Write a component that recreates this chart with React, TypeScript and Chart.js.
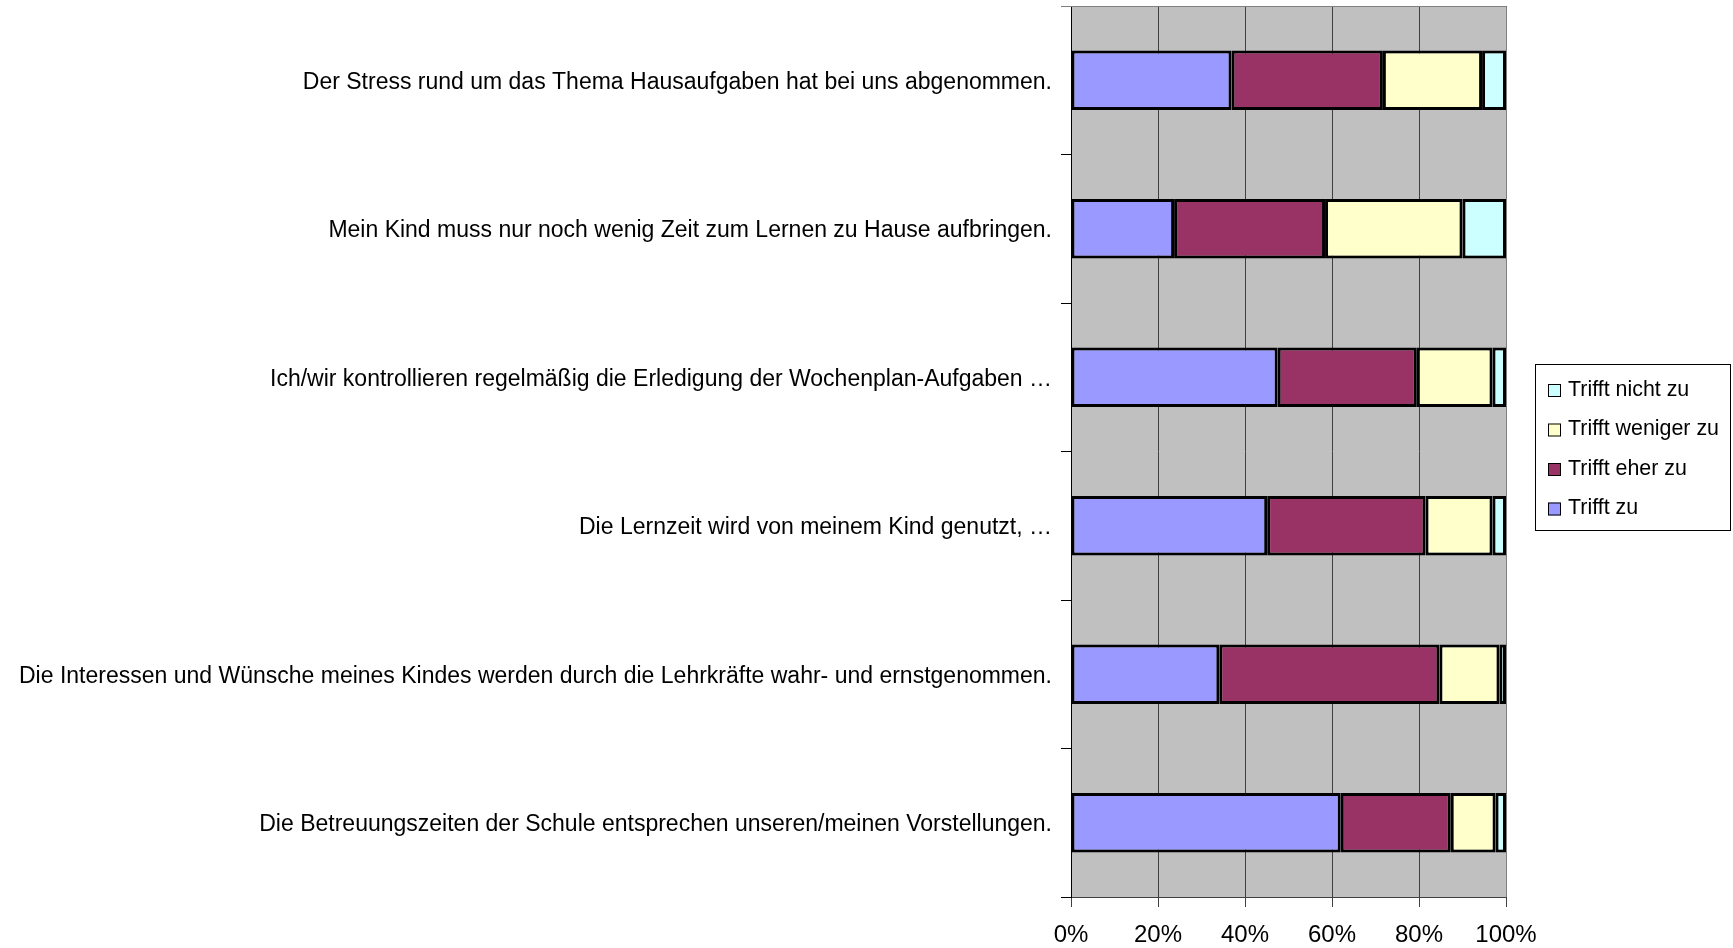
import React, { useEffect, useRef } from "react";
import { Chart, registerables } from "chart.js";

Chart.register(...registerables);

const categories = [
  "Der Stress rund um das Thema Hausaufgaben hat bei uns abgenommen.",
  "Mein Kind muss nur noch wenig Zeit zum Lernen zu Hause aufbringen.",
  "Ich/wir kontrollieren regelmäßig die Erledigung der Wochenplan-Aufgaben …",
  "Die Lernzeit wird von meinem Kind genutzt, …",
  "Die Interessen und Wünsche meines Kindes werden durch die Lehrkräfte wahr- und ernstgenommen.",
  "Die Betreuungszeiten der Schule entsprechen unseren/meinen Vorstellungen.",
];

const trifftZu = [36.9, 23.7, 47.5, 45.1, 34.1, 62.0];
const trifftEherZu = [34.8, 34.7, 32.0, 36.4, 50.6, 25.3];
const trifftWenigerZu = [22.8, 31.6, 17.4, 15.4, 13.8, 10.3];
const trifftNichtZu = [5.5, 10.0, 3.1, 3.1, 1.5, 2.4];

const seriesNames = ["Trifft zu", "Trifft eher zu", "Trifft weniger zu", "Trifft nicht zu"];
const seriesColors = ["#9999FF", "#993366", "#FFFFCC", "#CCFFFF"];
const xTicks = [0, 20, 40, 60, 80, 100];

const FONT = "'Liberation Sans', Arial, sans-serif";

const plotBg = {
  id: "plotBg",
  beforeDraw(chart: any) {
    const { ctx, chartArea: a } = chart;
    ctx.save();
    ctx.fillStyle = "#C0C0C0";
    ctx.fillRect(a.left, a.top, a.right - a.left, a.bottom - a.top);
    ctx.restore();
  },
  afterDatasetsDraw(chart: any) {
    const { ctx, chartArea: a } = chart;
    ctx.save();
    ctx.strokeStyle = "#808080";
    ctx.lineWidth = 1;
    ctx.beginPath();
    ctx.moveTo(a.left - 10, a.top + 0.5);
    ctx.lineTo(a.right + 0.5, a.top + 0.5);
    ctx.lineTo(a.right + 0.5, a.bottom);
    ctx.stroke();
    ctx.restore();
  },
};

const boxLegend = {
  id: "boxLegend",
  afterDraw(chart: any) {
    const { ctx } = chart;
    const x = 1535, y = 364, w = 195, h = 166;
    ctx.save();
    ctx.fillStyle = "#FFFFFF";
    ctx.fillRect(x, y, w, h);
    ctx.strokeStyle = "#000000";
    ctx.lineWidth = 1;
    ctx.strokeRect(x + 0.5, y + 0.5, w, h);
    const ds = chart.data.datasets.slice().reverse();
    ctx.font = `21.4px ${FONT}`;
    ctx.textBaseline = "middle";
    ds.forEach((d: any, i: number) => {
      const cy = 390 + i * 39.5;
      ctx.fillStyle = d.backgroundColor;
      ctx.fillRect(x + 13, cy - 6, 13, 13);
      ctx.strokeStyle = "#000";
      ctx.strokeRect(x + 13.5, cy - 5.5, 12, 12);
      ctx.fillStyle = "#000";
      ctx.fillText(d.label, x + 33, cy);
    });
    ctx.restore();
  },
};

export default function App() {
  const ref = useRef<HTMLCanvasElement>(null);
  useEffect(() => {
    if (!ref.current) return;
    const values = [trifftZu, trifftEherZu, trifftWenigerZu, trifftNichtZu];
    const chart = new Chart(ref.current, {
      type: "bar",
      data: {
        labels: categories,
        datasets: seriesNames.map((n, i) => ({
          label: n,
          data: values[i],
          backgroundColor: seriesColors[i],
          borderColor: "#000000",
          borderWidth: 3,
          borderSkipped: false,
          barPercentage: 0.4,
          categoryPercentage: 1,
        })),
      },
      options: {
        indexAxis: "y",
        animation: false,
        responsive: false,
        maintainAspectRatio: false,
        layout: { padding: { top: 6, right: 227, left: 0, bottom: 0 } },
        plugins: {
          legend: { display: false },
          tooltip: { enabled: false },
        },
        scales: {
          x: {
            stacked: true,
            min: 0,
            max: 100,
            afterBuildTicks: (s: any) => {
              s.ticks = xTicks.map((v) => ({ value: v }));
            },
            afterFit: (s: any) => {
              s.height = 51;
              s.paddingLeft = 0;
              s.paddingRight = 0;
            },
            ticks: {
              callback: (v: any) => v + "%",
              color: "#000",
              font: { family: FONT, size: 24 },
              padding: 14,
              maxRotation: 0,
            },
            grid: { color: "#404040", lineWidth: 1, tickLength: 10, drawTicks: true },
            border: { display: true, color: "#404040", width: 1 },
          },
          y: {
            stacked: true,
            afterFit: (s: any) => {
              s.width = 1071;
              s.paddingTop = 0;
              s.paddingBottom = 0;
            },
            ticks: {
              color: "#000",
              font: { family: FONT, size: 23 },
              padding: 9,
              labelOffset: 2,
              autoSkip: false,
            },
            grid: { offset: true, drawOnChartArea: false, drawTicks: true, tickLength: 10, color: "#000" },
            border: { display: true, color: "#000", width: 1 },
          },
        },
      },
      plugins: [plotBg, boxLegend],
    });
    return () => chart.destroy();
  }, []);
  return (
    <div style={{ position: "fixed", left: 0, top: 0, width: 1733, height: 948, background: "#fff" }}>
      <canvas ref={ref} width={1733} height={948} style={{ width: 1733, height: 948 }} />
    </div>
  );
}
